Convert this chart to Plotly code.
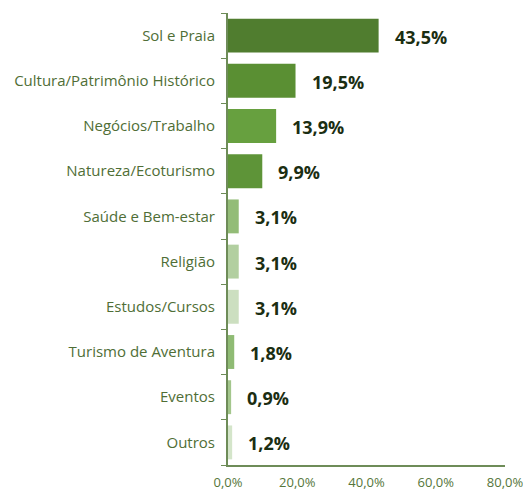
import plotly.graph_objects as go

categories = [
    "Sol e Praia",
    "Cultura/Patrimônio Histórico",
    "Negócios/Trabalho",
    "Natureza/Ecoturismo",
    "Saúde e Bem-estar",
    "Religião",
    "Estudos/Cursos",
    "Turismo de Aventura",
    "Eventos",
    "Outros",
]
values = [43.5, 19.5, 13.9, 9.9, 3.1, 3.1, 3.1, 1.8, 0.9, 1.2]
bar_colors = [
    "#507D2F", "#5A8F33", "#67A03F", "#5E9438", "#93BC77",
    "#B2CFA0", "#CCDFC0", "#8FBB74", "#A3C68C", "#D4E5CA",
]
x_ticks = [0, 20, 40, 60, 80]
x_tick_labels = ["0,0%", "20,0%", "40,0%", "60,0%", "80,0%"]

def fmt(v):
    return f"{v:.1f}".replace(".", ",") + "%"

fig = go.Figure(
    go.Bar(
        x=values,
        y=categories,
        orientation="h",
        marker=dict(color=bar_colors, line=dict(width=0)),
        hoverinfo="skip",
    )
)

for cat, v in zip(categories, values):
    fig.add_annotation(
        x=v, y=cat, text=fmt(v), showarrow=False,
        xanchor="left", yanchor="middle", xshift=14, yshift=-1,
        font=dict(family="Open Sans", size=18, color="#1B2E12", weight="bold"),
    )

axis_color = "#6E8C58"
fig.update_layout(
    width=523, height=491,
    margin=dict(l=228, r=18, t=13, b=26),
    paper_bgcolor="white", plot_bgcolor="white",
    bargap=0.25,
    showlegend=False,
    font=dict(family="Open Sans", color="#4F6E36"),
    xaxis=dict(
        range=[0, 80], tickvals=x_ticks, ticktext=x_tick_labels,
        showgrid=False, zeroline=False, automargin=False,
        ticklabeloverflow="allow", ticklabelstandoff=4,
        showline=True, linecolor=axis_color, linewidth=2,
        ticks="", tickfont=dict(size=13, color="#55763A"),
        fixedrange=True,
    ),
    yaxis=dict(
        categoryorder="array", categoryarray=categories[::-1],
        autorange=True, automargin=False,
        showgrid=False, zeroline=False,
        showline=True, linecolor=axis_color, linewidth=2,
        ticks="outside", ticklen=5, tickcolor=axis_color, tickwidth=1,
        tickson="boundaries",
        ticklabelstandoff=8,
        tickfont=dict(size=15, color="#4F6E36"),
        fixedrange=True,
    ),
)

fig.write_html("out.html")
